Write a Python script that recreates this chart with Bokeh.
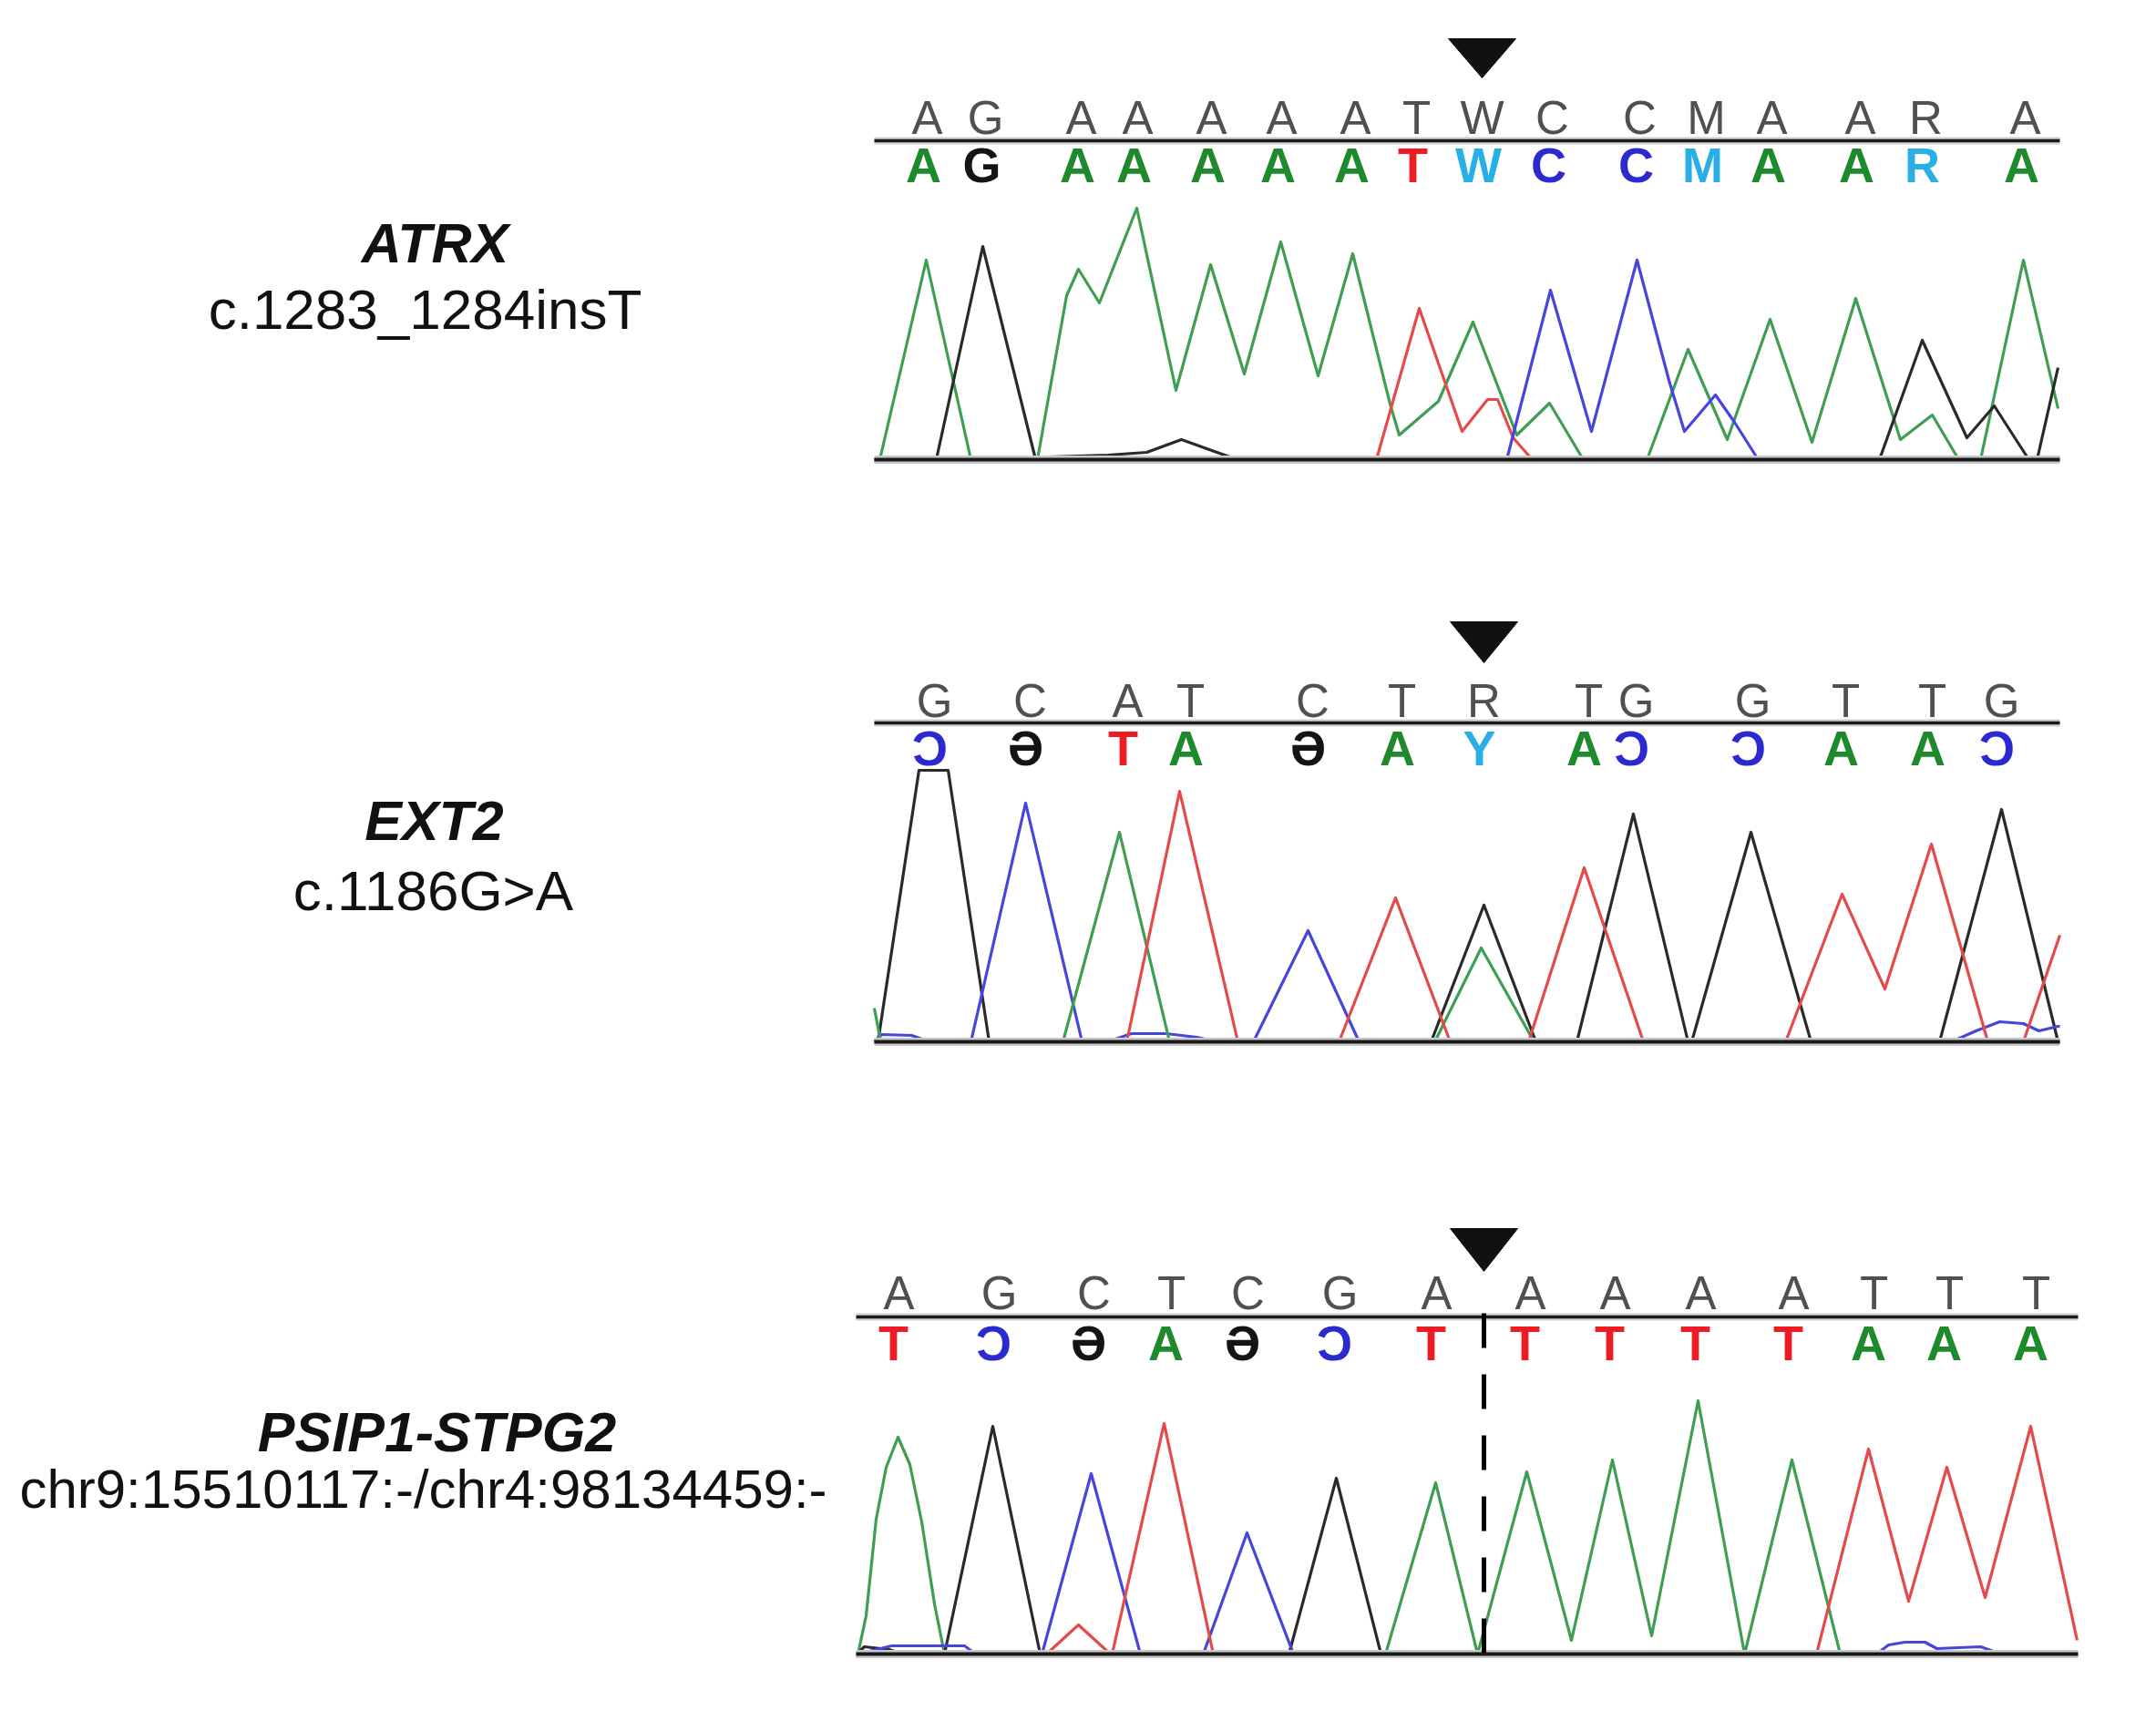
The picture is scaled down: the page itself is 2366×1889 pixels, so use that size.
from bokeh.plotting import figure
from bokeh.models import Range1d, ColumnDataSource
from bokeh.core.properties import value
from bokeh.embed import file_html
from bokeh.resources import INLINE

# ---------------- data ----------------
genes = ["ATRX", "EXT2", "PSIP1-STPG2"]
variants = ["c.1283_1284insT", "c.1186G>A", "chr9:15510117:-/chr4:98134459:-"]

# reference sequence (top row), base calls (bottom row), peak positions (scan)
atrx_ref = list("AGAAAAATWCCMAARA")
atrx_call = list("AGAAAAATWCCMAARA")
atrx_pos = [1017, 1081, 1186, 1248, 1329, 1406, 1487, 1554, 1626, 1703, 1799, 1872, 1944, 2041, 2113, 2222]

ext2_ref = list("GCATCTRTGGTTG")
ext2_call = ["Ɔ", "Ә", "T", "A", "Ә", "A", "Y", "A", "Ɔ", "Ɔ", "A", "A", "Ɔ"]
ext2_pos = [1025, 1130, 1237, 1306, 1440, 1538, 1628, 1743, 1795, 1923, 2025, 2120, 2196]

psip_ref = list("AGCTCGAAAAATTT")
psip_call = ["T", "Ɔ", "Ә", "A", "Ә", "Ɔ", "T", "T", "T", "T", "T", "A", "A", "A"]
psip_pos = [986, 1096, 1200, 1285, 1369, 1470, 1576, 1679, 1772, 1866, 1968, 2056, 2139, 2234]

mutation_pos = [1626, 1628, 1628]

# ---- ATRX traces (scan position, signal) ----
atrx_A_x = [959, 965, 1016, 1065, 1138, 1170, 1183, 1206, 1247, 1290, 1328, 1365, 1405, 1446, 1484, 1525, 1535,
            1578, 1616, 1643, 1664, 1700, 1737, 1807, 1852, 1895, 1942, 1988, 2036, 2085, 2120, 2149, 2173, 2220, 2258]
atrx_A_y = [0, 0, 219, 0, 0, 180, 209, 172, 276, 76, 214, 94, 239, 92, 226, 61, 27,
            64, 151, 81, 27, 62, 0, 0, 121, 22, 154, 19, 177, 22, 49, 0, 0, 219, 56]
atrx_G_x = [959, 1027, 1078, 1136, 1150, 1215, 1258, 1296, 1335, 1352, 1380, 2062, 2109, 2158, 2188, 2226, 2235, 2258]
atrx_G_y = [0, 0, 234, 0, 3, 5, 8, 22, 8, 2, 0, 0, 131, 24, 59, 0, 0, 101]
atrx_T_x = [1490, 1510, 1557, 1604, 1632, 1643, 1660, 1681]
atrx_T_y = [0, 0, 166, 31, 66, 66, 24, 0]
atrx_C_x = [1640, 1653, 1701, 1746, 1796, 1831, 1848, 1882, 1903, 1929]
atrx_C_y = [0, 0, 186, 31, 219, 87, 31, 71, 41, 0]

# ---- EXT2 traces ----
ext2_A_x = [959, 966, 1166, 1228, 1283, 1574, 1625, 1683]
ext2_A_y = [37, 0, 0, 230, 0, 0, 103, 0]
ext2_G_x = [959, 963, 1008, 1040, 1085, 1570, 1628, 1685, 1730, 1792, 1852, 1856, 1921, 1987, 2128, 2196, 2258, 2260]
ext2_G_y = [0, 0, 298, 298, 0, 0, 150, 0, 0, 250, 0, 0, 230, 0, 0, 255, 0, 0]
ext2_T_x = [1236, 1294, 1358, 1469, 1531, 1591, 1677, 1738, 1803, 1959, 2021, 2068, 2119, 2181, 2220, 2260]
ext2_T_y = [0, 275, 0, 0, 158, 0, 0, 191, 0, 0, 162, 58, 217, 0, 0, 117]
ext2_C_x = [959, 967, 1000, 1020, 1065, 1125, 1187, 1215, 1241, 1279, 1313, 1335, 1375, 1435, 1491,
            2141, 2168, 2194, 2220, 2237, 2258, 2260]
ext2_C_y = [0, 8, 7, 0, 0, 262, 0, 0, 9, 9, 5, 0, 0, 122, 0,
            0, 12, 22, 20, 12, 17, 17]

# ---- PSIP1-STPG2 traces ----
psip_A_x = [941, 950, 961, 972, 985, 998, 1011, 1025, 1036, 1520, 1575, 1621, 1675, 1724, 1769, 1812, 1863,
            1914, 1966, 2019]
psip_A_y = [0, 42, 148, 205, 238, 208, 145, 55, 0, 0, 188, 0, 200, 15, 213, 20, 278,
            0, 213, 0]
psip_G_x = [940, 948, 975, 990, 1036, 1089, 1141, 1414, 1466, 1515]
psip_G_y = [0, 8, 5, 0, 0, 250, 0, 0, 193, 0]
psip_T_x = [1148, 1183, 1218, 1220, 1277, 1331, 1993, 2050, 2094, 2136, 2178, 2228, 2279]
psip_T_y = [0, 32, 0, 0, 253, 0, 0, 225, 58, 205, 62, 250, 15]
psip_C_x = [941, 978, 1058, 1066, 1119, 1143, 1197, 1251, 1320, 1368, 1419,
            2059, 2072, 2090, 2112, 2125, 2173, 2187, 2204]
psip_C_y = [0, 9, 9, 3, 2, 0, 198, 0, 0, 133, 0,
            0, 10, 13, 13, 6, 8, 3, 0]

# ---------------- styling / layout ----------------
W, H = 2350, 1873
PAGE_TOP, PAGE_BOTTOM = 0, H

TRACE_COL = {"A": "#3f9e52", "G": "#2a2a2a", "T": "#e54a4a", "C": "#4646dc"}
CALL_COL = {"A": "#1f8a2c", "G": "#141414", "Ә": "#141414", "T": "#ec1c24",
            "C": "#2a2ad0", "Ɔ": "#2a2ad0"}
AMBIG_COL = "#29aee6"
REF_COL = "#505050"

LETTER_FONT = value("Liberation Sans")
LABEL_FONT = value("Liberation Sans")

# per panel layout (page pixels): baseline y, left/right of trace, letter / line levels
panels = [
    dict(name="atrx", base=504, left=959, right=2260, ref_y=375, call_y=324, line_y=350,
         tri_top=462, tri_tip=419, label_y=238, var_y=165, label_x=477, var_x=466, var_size=62, dashed=False,
         ref=atrx_ref, call=atrx_call, pos=atrx_pos, call_dx=-4,
         traces=[("A", atrx_A_x, atrx_A_y), ("G", atrx_G_x, atrx_G_y),
                 ("T", atrx_T_x, atrx_T_y), ("C", atrx_C_x, atrx_C_y)]),
    dict(name="ext2", base=1143, left=959, right=2260, ref_y=374, call_y=323, line_y=350,
         tri_top=461, tri_tip=416, label_y=243, var_y=166, label_x=476, var_x=475, var_size=62, dashed=False,
         ref=ext2_ref, call=ext2_call, pos=ext2_pos, call_dx=-5,
         traces=[("G", ext2_G_x, ext2_G_y), ("C", ext2_C_x, ext2_C_y),
                 ("A", ext2_A_x, ext2_A_y), ("T", ext2_T_x, ext2_T_y)]),
    dict(name="psip", base=1815, left=939, right=2280, ref_y=396, call_y=342, line_y=370,
         tri_top=467, tri_tip=420, label_y=244, var_y=181, label_x=479, var_x=464, var_size=60, dashed=True,
         ref=psip_ref, call=psip_call, pos=psip_pos, call_dx=-6,
         traces=[("A", psip_A_x, psip_A_y), ("G", psip_G_x, psip_G_y),
                 ("C", psip_C_x, psip_C_y), ("T", psip_T_x, psip_T_y)]),
]

p = figure(width=W, height=H, x_range=Range1d(0, W), y_range=Range1d(-PAGE_BOTTOM, -PAGE_TOP),
           output_backend="svg", toolbar_location=None, x_axis_location=None, y_axis_location=None,
           min_border=0, tools="")
p.grid.visible = False
p.outline_line_color = None
p.background_fill_color = "white"
p.border_fill_color = "white"

p.extra_y_ranges = {pn["name"]: Range1d(pn["base"] - PAGE_BOTTOM, pn["base"] - PAGE_TOP) for pn in panels}

for i, pn in enumerate(panels):
    rn = pn["name"]
    # traces
    for base, xs, ys in pn["traces"]:
        p.line(xs, ys, line_color=TRACE_COL[base], line_width=3.2, line_join="round", y_range_name=rn)
    # baseline and sequence rule
    for lw, col in ((9, "#c8c8c8"), (4, "#1a1a1a")):
        p.line([pn["left"], pn["right"]], [0, 0], line_color=col, line_width=lw, y_range_name=rn)
    for lw, col in ((8, "#cfcfcf"), (3.5, "#1a1a1a")):
        p.line([pn["left"], pn["right"]], [pn["line_y"], pn["line_y"]], line_color=col, line_width=lw,
               y_range_name=rn)
    # reference letters
    src_ref = ColumnDataSource(dict(x=pn["pos"], y=[pn["ref_y"]] * len(pn["pos"]), t=pn["ref"]))
    p.text("x", "y", text="t", source=src_ref, text_font=LETTER_FONT, text_font_size="51px",
           text_color=REF_COL, text_align="center", text_baseline="alphabetic", y_range_name=rn)
    # base calls
    cols = [CALL_COL.get(c, AMBIG_COL) for c in pn["call"]]
    src_call = ColumnDataSource(dict(x=[v + pn["call_dx"] for v in pn["pos"]],
                                     y=[pn["call_y"]] * len(pn["pos"]), t=pn["call"], c=cols))
    p.text("x", "y", text="t", source=src_call, text_font=LETTER_FONT, text_font_size="54px",
           text_font_style="bold", text_color="c", text_align="center", text_baseline="alphabetic",
           y_range_name=rn)
    # mutation marker
    m = mutation_pos[i]
    p.patch([m - 37, m + 37, m], [pn["tri_top"], pn["tri_top"], pn["tri_tip"]],
            fill_color="#111111", line_color="#111111", y_range_name=rn)
    if pn["dashed"]:
        p.line([m, m], [pn["line_y"] + 4, 0], line_color="#000000", line_width=5,
               line_dash="38 29", y_range_name=rn)
    # labels
    p.text([pn["label_x"]], [pn["label_y"]], text=[genes[i]], text_font=LABEL_FONT, text_font_size="61px",
           text_font_style="bold italic", text_color="#111111", text_align="center",
           text_baseline="alphabetic", y_range_name=rn)
    p.text([pn["var_x"]], [pn["var_y"]], text=[variants[i]], text_font=LABEL_FONT,
           text_font_size=f"{pn['var_size']}px",
           text_color="#111111", text_align="center", text_baseline="alphabetic", y_range_name=rn)

open("out.html", "w").write(file_html(p, INLINE))
